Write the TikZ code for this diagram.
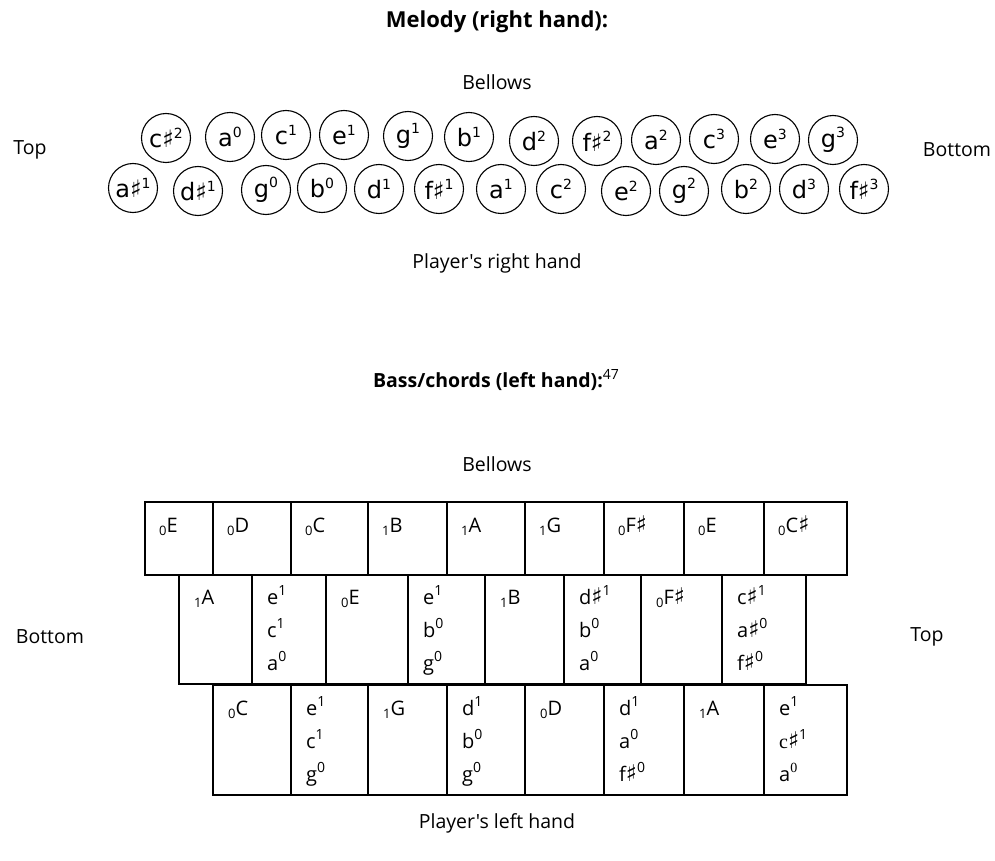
\documentclass[tikz,border=0pt]{standalone}
\usepackage{fontspec}
\setmainfont{Open Sans}[Ligatures=TeXOff]
\newfontfamily\notefont{DejaVu Sans}
\newfontfamily\seriffont{Liberation Serif}
\newcommand\shp{{\notefont\fontsize{23}{23}\selectfont ♯}}
\newcommand\up[1]{\raisebox{0.75ex}{\fontsize{14}{14}\selectfont #1}}
\newcommand\lo[1]{\raisebox{-0.3ex}{\fontsize{13}{13}\selectfont #1}}
\newcommand\chord[3]{\vtop{\baselineskip=33pt\lineskiplimit=0pt\hbox{#1}\hbox{#2}\hbox{#3}}}
\tikzset{
  key/.style={draw, circle, line width=1.1pt, minimum size=49pt, inner sep=0pt,
    font=\notefont\fontsize{24}{24}\selectfont},
  lbl/.style={font=\fontsize{19.5}{19.5}\selectfont, inner sep=0pt},
  ttl/.style={font=\bfseries\fontsize{22}{22}\selectfont, inner sep=0pt},
  cellbox/.style={draw, line width=1.6pt},
  celltxt/.style={anchor=base west, inner sep=0pt,
    font=\fontsize{20}{33}\selectfont},
}
\begin{document}
\begin{tikzpicture}[x=1pt,y=-1pt]
\useasboundingbox (0,0) rectangle (995,861);
% ---------- Melody ----------
\node[ttl] (t1) at (497,22) {Melody (right hand):};
\node[lbl] (bel1) at (497,82) {Bellows};
\node[lbl] (top1) at (30,150) {Top};
\node[lbl] (bot1) at (957,150) {Bottom};
\node[lbl] (prh) at (497,263) {Player's right hand};
% top row
\node[key] (k1) at (166,138) {c♯\up{2}};
\node[key] (k2) at (230,137) {a\up{0}};
\node[key] (k3) at (286,135) {c\up{1}};
\node[key] (k4) at (344,135) {e\up{1}};
\node[key] (k5) at (408,136) {g\up{1}};
\node[key] (k6) at (469,137) {b\up{1}};
\node[key] (k7) at (534,141) {d\up{2}};
\node[key] (k8) at (597,141) {f♯\up{2}};
\node[key] (k9) at (656,140) {a\up{2}};
\node[key] (k10) at (714,139) {c\up{3}};
\node[key] (k11) at (775,139) {e\up{3}};
\node[key] (k12) at (833,140) {g\up{3}};
% bottom row
\node[key] (m1) at (133,188) {a♯\up{1}};
\node[key] (m2) at (198,191) {d♯\up{1}};
\node[key] (m3) at (266,190) {g\up{0}};
\node[key] (m4) at (322,188) {b\up{0}};
\node[key] (m5) at (379,189) {d\up{1}};
\node[key] (m6) at (439,189) {f♯\up{1}};
\node[key] (m7) at (501,189) {a\up{1}};
\node[key] (m8) at (561,189) {c\up{2}};
\node[key] (m9) at (626,191) {e\up{2}};
\node[key] (m10) at (684,191) {g\up{2}};
\node[key] (m11) at (746,189) {b\up{2}};
\node[key] (m12) at (804,189) {d\up{3}};
\node[key] (m13) at (864,189) {f♯\up{3}};
% ---------- Bass ----------
\node[ttl, font=\bfseries\fontsize{19.5}{19.5}\selectfont] (t2) at (496,380) {Bass/chords (left hand):{\mdseries\up{47}}};
\node[lbl] (bel2) at (497,464) {Bellows};
\node[lbl] (bot2) at (50,637) {Bottom};
\node[lbl] (top2) at (927,637) {Top};
\node[lbl] (plh) at (497,823) {Player's left hand};
% row 1
\foreach \a/\b/\t [count=\i] in {145/213/\lo{0}E, 213/291/\lo{0}D, 291/368/\lo{0}C, 368/447/\lo{1}B,
  447/525/\lo{1}A, 525/604/\lo{1}G, 604/684/\lo{0}F\shp, 684/764/\lo{0}E, 764/847/\lo{0}C\shp}{
  \draw[cellbox] (\a,502) rectangle (\b,575);
  \node[celltxt] (r1c\i) at (\a+14,532) {\t};
}
% row 2
\foreach \a/\b/\t [count=\i] in {179/252/\lo{1}A, 252/326/{\chord{e\up{1}}{c\up{1}}{a\up{0}}},
  326/408/\lo{0}E, 408/485/{\chord{e\up{1}}{b\up{0}}{g\up{0}}}, 485/564/\lo{1}B,
  564/641/{\chord{d\shp\up{1}}{b\up{0}}{a\up{0}}}, 641/722/\lo{0}F\shp,
  722/806/{\chord{c\shp\up{1}}{a\shp\up{0}}{f\shp\up{0}}}}{
  \draw[cellbox] (\a,575) rectangle (\b,684);
  \node[celltxt] (r2c\i) at (\a+15,604) {\t};
}
% row 3
\foreach \a/\b/\t [count=\i] in {213/291/\lo{0}C, 291/368/{\chord{e\up{1}}{c\up{1}}{g\up{0}}},
  368/447/\lo{1}G, 447/525/{\chord{d\up{1}}{b\up{0}}{g\up{0}}}, 525/604/\lo{0}D,
  604/684/{\chord{d\up{1}}{a\up{0}}{f\shp\up{0}}}, 684/764/\lo{1}A,
  764/847/{\chord{e\up{1}}{{\seriffont c}\shp\up{1}}{a\up{\seriffont 0}}}}{
  \draw[cellbox] (\a,685) rectangle (\b,795);
  \node[celltxt] (r3c\i) at (\a+15,715) {\t};
}
\end{tikzpicture}
\end{document}
